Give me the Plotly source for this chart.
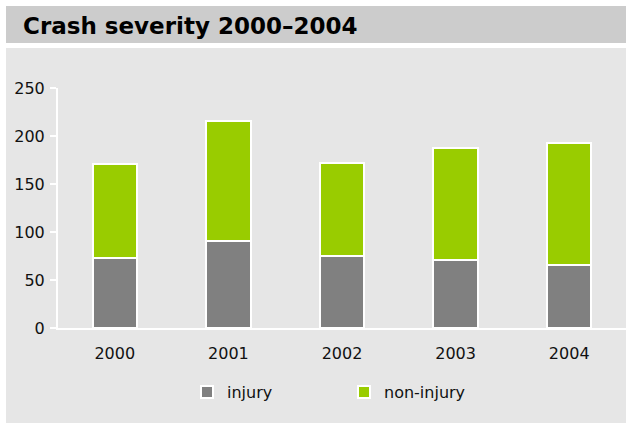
import plotly.graph_objects as go

years = ["2000", "2001", "2002", "2003", "2004"]
injury = [73, 91, 75, 71, 66]
non_injury = [98, 125, 97, 116, 127]
y_ticks = [0, 50, 100, 150, 200, 250]

W, H = 626, 423
L, R, T, B = 58, 0, 88, 95
pw, ph = W - L - R, H - T - B

def px_x(px):
    return (px - L) / pw

def px_y(py):
    return (H - B - py) / ph

FONT = "Verdana, DejaVu Sans, sans-serif"

fig = go.Figure()
fig.add_trace(go.Bar(
    x=years, y=injury, name="injury",
    marker=dict(color="#808080", line=dict(color="white", width=2)),
    width=0.39,
))
fig.add_trace(go.Bar(
    x=years, y=non_injury, name="non-injury",
    marker=dict(color="#99CC00", line=dict(color="white", width=2)),
    width=0.39,
))

shapes = [
    dict(type="rect", xref="paper", yref="paper", layer="below",
         x0=px_x(6), x1=px_x(640), y0=px_y(43), y1=px_y(6),
         fillcolor="#CCCCCC", line=dict(width=0)),
    dict(type="rect", xref="paper", yref="paper", layer="below",
         x0=px_x(6), x1=px_x(640), y0=px_y(430), y1=px_y(48),
         fillcolor="#E6E6E6", line=dict(width=0)),
]

fig.update_layout(
    width=W, height=H,
    margin=dict(l=L, r=R, t=T, b=B, pad=0),
    paper_bgcolor="white",
    plot_bgcolor="rgba(0,0,0,0)",
    barmode="stack",
    shapes=shapes,
    font=dict(family=FONT, size=16, color="#111111"),
    title=dict(
        text="<b>Crash severity 2000–2004</b>",
        font=dict(family=FONT, size=23, color="#000000"),
        x=23 / W, xanchor="left", xref="container",
        y=1 - 26 / H, yanchor="middle", yref="container",
    ),
    showlegend=True,
    legend=dict(
        orientation="h",
        x=px_x(187), xanchor="left",
        y=px_y(392), yanchor="middle",
        bgcolor="rgba(0,0,0,0)",
        font=dict(family=FONT, size=16, color="#111111"),
        entrywidth=112, entrywidthmode="pixels",
        traceorder="normal",
    ),
    xaxis=dict(
        range=[-0.5, 4.5],
        showline=True, linecolor="white", linewidth=2,
        ticks="", showgrid=False, zeroline=False,
        ticklabelstandoff=10,
        tickfont=dict(family=FONT, size=16, color="#111111"),
        fixedrange=True,
    ),
    yaxis=dict(
        range=[0, 250],
        tickvals=y_ticks,
        showline=True, linecolor="white", linewidth=2,
        ticks="outside", tickcolor="white", ticklen=6, tickwidth=2,
        showgrid=False, zeroline=False,
        ticklabelstandoff=2,
        tickfont=dict(family=FONT, size=16, color="#111111"),
        fixedrange=True,
    ),
)

fig.write_html(
    "out.html",
    config={"displayModeBar": False},
    post_script="document.body.style.margin='0px';document.body.style.overflow='hidden';",
)
